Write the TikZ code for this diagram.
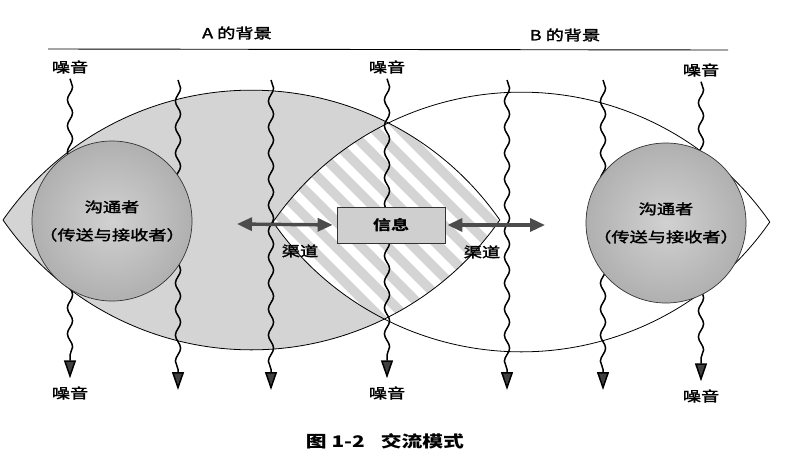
\documentclass[tikz,border=0pt]{standalone}
\usepackage{fontspec}
\setmainfont[FakeStretch=1.3]{Noto Sans CJK SC}
\newfontfamily\semibold[FakeStretch=1.3,FakeBold=2]{Noto Sans CJK SC}
\usetikzlibrary{arrows.meta,decorations.pathmorphing}

\tikzset{
  lbl/.style={font=\semibold\fontsize{14}{14}\selectfont, inner sep=0pt},
  noise/.style={draw=black, line width=1.5pt, decorate,
    decoration={snake, amplitude=2.6pt, segment length=26pt, post length=18pt},
    -{Triangle[length=18pt,width=12pt,fill=black!75]}},
  chan/.style={black!70, line width=3.4pt,
    {Triangle[length=15pt,width=13pt]}-{Triangle[length=15pt,width=13pt]}},
  comm/.style={circle, draw=black!80, line width=0.7pt, minimum size=160pt,
    shade, inner color=gray!36, outer color=gray!62, align=center,
    font=\semibold\fontsize{14}{28}\selectfont},
  msgbox/.style={draw=black!80, line width=0.8pt, fill=gray!38,
    minimum width=108pt, minimum height=36pt, font=\bfseries\fontsize{14}{14}\selectfont}
}

\def\lensA{(3,220) arc[start angle=-145.2, end angle=-34.8, radius=302.5]
  arc[start angle=34.8, end angle=145.2, radius=302.5] -- cycle}
\def\lensB{(273,222) arc[start angle=-145.2, end angle=-34.8, radius=302.5]
  arc[start angle=34.8, end angle=145.2, radius=302.5] -- cycle}

\begin{document}
\begin{tikzpicture}[x=1pt,y=-1pt]
\useasboundingbox[fill=white] (0,0) rectangle (801,467);

% backgrounds
\node[lbl] (bgA) at (237,33) {A 的背景};
\node[lbl] (bgB) at (565,35) {B 的背景};
\coordinate (ruleL) at (48,49);
\coordinate (ruleR) at (728,50);
\draw[line width=0.9pt] (ruleL) -- (ruleR);

% the two fields
\fill[gray!34] \lensA;
\begin{scope}
  \clip \lensA;
  \clip \lensB;
  \foreach \c in {-420,-394,...,80}
    \fill[white] (250,250+\c) -- (540,540+\c) -- (540,552+\c) -- (250,262+\c) -- cycle;
\end{scope}
\draw[line width=0.8pt] \lensA;
\draw[line width=0.8pt] \lensB;

% noise
\node[lbl] (nT1) at (70,67) {噪音};
\node[lbl] (nT2) at (387,67) {噪音};
\node[lbl] (nT3) at (701,70) {噪音};
\node[lbl] (nB1) at (70,393) {噪音};
\node[lbl] (nB2) at (387,393) {噪音};
\node[lbl] (nB3) at (701,396) {噪音};
\draw[noise] ([yshift=-5pt]nT1.south) -- ([yshift=8pt]nB1.north);
\draw[noise] ([yshift=-5pt]nT2.south) -- ([yshift=8pt]nB2.north);
\draw[noise] ([yshift=-5pt]nT3.south) -- ([yshift=8pt]nB3.north);
\foreach \x [count=\i] in {178,271,507,603} {
  \coordinate (w\i t) at (\x,80);
  \coordinate (w\i b) at (\x,390);
  \draw[noise] (w\i t) -- (w\i b);
}

% communicators
\node[comm] (commA) at (112,221) {沟通者\\（传送与接收者）};
\node[comm] (commB) at (666,223) {沟通者\\（传送与接收者）};

% message and channels
\node[msgbox] (msg) at (391,225) {信息};
\coordinate (chA) at (237,224);
\coordinate (chB) at (545,225);
\draw[chan, shorten >=4pt] (chA) -- (msg.west);
\draw[chan, shorten <=2pt] (msg.east) -- (chB);
\node[lbl] (qdA) at (300,251) {渠道};
\node[lbl] (qdB) at (482,252) {渠道};

\node[font=\bfseries\fontsize{16}{16}\selectfont] (cap) at (385,441) {图 1-2\quad 交流模式};
\end{tikzpicture}
\end{document}
